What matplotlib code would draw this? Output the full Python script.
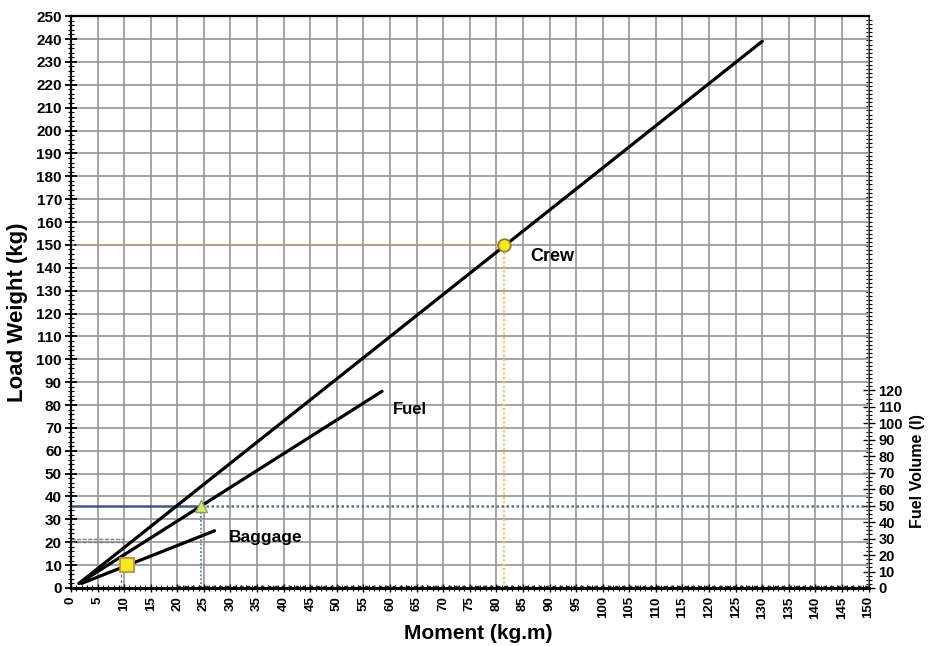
import numpy as np
import matplotlib.pyplot as plt
from matplotlib.ticker import MultipleLocator

plt.rcParams['font.family'] = ['Liberation Sans', 'DejaVu Sans']

# load lines (moment kg.m, weight kg)
crew_x = [1.5, 130]
crew_y = [2, 239]
fuel_x = [1.5, 58.5]
fuel_y = [2, 86]
bag_x = [2, 27]
bag_y = [2, 25]

# example loading points
crew_pt = (81.5, 150)
fuel_pt = (24.5, 36)
bag_pt = (10.5, 10)

fuel_density = 0.72  # kg per litre
fuel_ticks = list(range(0, 130, 10))

fig = plt.figure(figsize=(9.3, 6.46), dpi=100)
ax = fig.add_axes([0.0763, 0.0898, 0.8577, 0.8852])

ax.set_xlim(0, 150)
ax.set_ylim(0, 250)
ax.xaxis.set_major_locator(MultipleLocator(5))
ax.xaxis.set_minor_locator(MultipleLocator(1))
ax.yaxis.set_major_locator(MultipleLocator(10))
ax.yaxis.set_minor_locator(MultipleLocator(2))
ax.grid(True, which='major', color='#959595', lw=1.2)
ax.set_axisbelow(True)

ax.tick_params(axis='x', which='major', direction='inout', length=6, width=1,
               labelsize=9.5, pad=3, labelrotation=90)
ax.tick_params(axis='y', which='major', direction='inout', length=9, width=1.3,
               labelsize=11, pad=2)
ax.tick_params(which='minor', direction='inout', length=4, width=0.8)
for lab in ax.get_xticklabels() + ax.get_yticklabels():
    lab.set_fontweight('bold')

for s in ['left', 'bottom', 'top']:
    ax.spines[s].set_linewidth(1.6)
ax.spines['bottom'].set_linewidth(2.2)
ax.spines['right'].set_visible(False)

# right axis: fuel volume
sec = ax.secondary_yaxis('right', functions=(lambda k: k / fuel_density,
                                             lambda l: l * fuel_density))
sec.set_yticks(fuel_ticks)
sec.yaxis.set_minor_locator(MultipleLocator(2.5))
sec.tick_params(which='major', direction='inout', length=8, width=1, labelsize=10.5, pad=3)
sec.tick_params(which='minor', direction='inout', length=4, width=0.8)
sec.spines['right'].set_linewidth(1.2)
for lab in sec.get_yticklabels():
    lab.set_fontweight('bold')
ax.text(1.061, 0.205, 'Fuel Volume (l)', transform=ax.transAxes,
        rotation=90, ha='center', va='center', fontsize=11.5, fontweight='bold')

# guide lines
ax.plot([0, crew_pt[0]], [crew_pt[1], crew_pt[1]], color='#c09a70', lw=1.2, ls=(0, (2, 1)))
ax.plot([crew_pt[0], crew_pt[0]], [0, crew_pt[1]], color='#f0c860', lw=1.6, ls=(0, (1, 1)))
ax.plot([0, fuel_pt[0]], [fuel_pt[1], fuel_pt[1]], color='#3e5c7c', lw=1.8)
ax.plot([fuel_pt[0], 150], [fuel_pt[1], fuel_pt[1]], color='#4a7a8a', lw=1.8, ls=(0, (1, 1)))
ax.plot([fuel_pt[0], fuel_pt[0]], [0, fuel_pt[1]], color='#6a90a0', lw=1.4, ls=(0, (1, 1)))
ax.plot([0, 10], [21.5, 21.5], color='#808080', lw=1.0, ls=(0, (3, 1)))
ax.plot([0, 10], [20, 20], color='#808080', lw=1.0, ls=(0, (3, 1)))
ax.plot([bag_pt[0] - 1, bag_pt[0] - 1], [0, bag_pt[1]], color='#707070', lw=1.0, ls=(0, (2, 2)))
ax.plot([20, 150], [0.4, 0.4], color='#333333', lw=2.5, ls=(0, (1, 1)))

# load lines
ax.plot(crew_x, crew_y, color='black', lw=2.3, solid_capstyle='round')
ax.plot(fuel_x, fuel_y, color='black', lw=2.3, solid_capstyle='round')
ax.plot(bag_x, bag_y, color='black', lw=2.3, solid_capstyle='round')

ax.plot(*crew_pt, marker='o', ms=9, mfc='#f2ea20', mec='#9a7a20', mew=1.3)
ax.plot(*fuel_pt, marker='^', ms=9, mfc='#d8e870', mec='#8aa060', mew=1.0)
ax.plot(*bag_pt, marker='s', ms=10, mfc='#f2ea20', mec='#c09040', mew=1.3)

ax.text(86.3, 145, 'Crew', fontsize=13, fontweight='bold', va='center')
ax.text(60.5, 78, 'Fuel', fontsize=12, fontweight='bold', va='center')
ax.text(29.7, 22, 'Baggage', fontsize=12.5, fontweight='bold', va='center')

ax.text(0.511, -0.080, 'Moment (kg.m)', transform=ax.transAxes, ha='center',
        va='center', fontsize=15, fontweight='bold')
ax.text(-0.0664, 0.4825, 'Load Weight (kg)', transform=ax.transAxes, ha='center',
        va='center', rotation=90, fontsize=16, fontweight='bold')

fig.savefig('out.png', dpi=100)
